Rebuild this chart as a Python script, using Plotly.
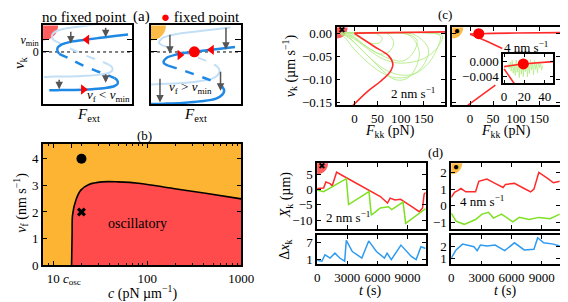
import plotly.graph_objects as go

W, H = 568, 302
def PX(px): return px / W
def PY(py): return 1 - py / H

FONT = "'Liberation Serif', 'Times New Roman', 'DejaVu Serif', serif"
RED = "#FF2A2A"
GREEN = "#7EE020"
LGREEN = "#B2EC86"
BLUE = "#2F9BF0"
DBLUE = "#1E88E5"
LBLUE = "#C3DFF6"
ORANGE = "#FCB432"
REDFILL = "#FF4B4B"
GRAY = "#555555"

# ---------------- (a) schematic curves (normalized units) ----------------
AL_UP_U = [0.95, 0.80, 0.62, 0.45, 0.30, 0.21, 0.165, 0.16, 0.18]
AL_UP_W = [0.885, 0.865, 0.84, 0.815, 0.79, 0.76, 0.72, 0.68, 0.64]
AL_MID_U = [0.18, 0.30, 0.45, 0.60, 0.72, 0.80]
AL_MID_W = [0.64, 0.575, 0.49, 0.42, 0.37, 0.33]
AL_LO_U = [0.80, 0.83, 0.835, 0.80, 0.70, 0.55, 0.35, 0.20, 0.07]
AL_LO_W = [0.33, 0.30, 0.26, 0.23, 0.205, 0.19, 0.18, 0.18, 0.175]
ALL_UP_U = [0.89, 0.74, 0.56, 0.39, 0.24, 0.15, 0.105, 0.10, 0.12]
ALL_UP_W = [1.055, 1.035, 1.01, 0.985, 0.96, 0.93, 0.89, 0.85, 0.81]
ALL_MID_U = [0.12, 0.24, 0.39, 0.54, 0.66, 0.74]
ALL_MID_W = [0.81, 0.745, 0.66, 0.59, 0.54, 0.50]
ALL_LO_U = [0.74, 0.77, 0.775, 0.74, 0.64, 0.49, 0.29, 0.14, 0.01]
ALL_LO_W = [0.50, 0.47, 0.43, 0.40, 0.375, 0.36, 0.35, 0.35, 0.345]

AR_UP_U = [0.93, 0.67, 0.48, 0.28, 0.17, 0.14, 0.19]
AR_UP_W = [0.725, 0.69, 0.665, 0.63, 0.585, 0.53, 0.49]
AR_MID_U = [0.19, 0.35, 0.50, 0.64, 0.74, 0.79]
AR_MID_W = [0.49, 0.43, 0.37, 0.31, 0.26, 0.22]
AR_LO_U = [0.79, 0.81, 0.79, 0.72, 0.55, 0.35, 0.15, 0.0]
AR_LO_W = [0.22, 0.17, 0.12, 0.07, 0.035, 0.015, 0.005, 0.0]
ARL_UP_U = [0.88, 0.62, 0.43, 0.23, 0.12, 0.09, 0.14]
ARL_UP_W = [0.975, 0.94, 0.915, 0.88, 0.835, 0.78, 0.74]
ARL_MID_U = [0.14, 0.30, 0.45, 0.59, 0.69, 0.74]
ARL_MID_W = [0.74, 0.68, 0.62, 0.56, 0.51, 0.47]
ARL_LO_U = [0.74, 0.76, 0.74, 0.67, 0.50, 0.30, 0.10, 0.0]
ARL_LO_W = [0.47, 0.42, 0.37, 0.32, 0.285, 0.265, 0.255, 0.25]

A_TICK_W = [0.663, 0.82]
A_TICK_TXT = ["0", "<i>v</i><sub>min</sub>"]

# gray arrows (u_start, w_start, u_end, w_end)
AL_ARROWS = [(0.31, 0.94, 0.31, 0.77), (0.70, 0.99, 0.70, 0.85),
             (0.18, 0.33, 0.18, 0.19), (0.70, 0.40, 0.70, 0.27)]
AR_ARROWS = [(0.21, 0.90, 0.21, 0.64), (0.83, 0.99, 0.83, 0.69),
             (0.77, 0.43, 0.77, 0.17), (0.10, 0.34, 0.10, 0.02)]

# ---------------- (b) phase diagram ----------------
B_BOUND_C = [15.7, 15.9, 16.1, 17.5, 19.7, 24, 33, 49, 85, 189, 417, 1000]
B_BOUND_V = [0.0, 1.17, 1.9, 2.46, 2.82, 3.03, 3.13, 3.13, 3.07, 2.88, 2.7, 2.49]
B_POINT_C = [20]
B_DOT_V = [4.0]
B_CROSS_V = [2.0]
B_XTICKS = [10, 15.8, 100, 1000]
B_XTICKTXT = ["10", "<i>c</i><sub>osc</sub>", "100", "1000"]
B_MINOR = [8, 9, 20, 30, 40, 50, 60, 70, 80, 90, 200, 300, 400, 500, 600, 700, 800, 900]

# ---------------- (c) force-velocity ----------------
C2_S_F = [-3, 28, 56, 77, 83, 74, 42, 0]
C2_S_V = [-0.157, -0.127, -0.105, -0.084, -0.067, -0.049, -0.028, 0.0]
C2_TOP_F = [0, 50, 100, 150, 200]
C2_TOP_V = [0.0005, 0.0015, 0.0022, 0.0028, 0.0033]
GREEN_LOOPS = [
    ([-30, -15, 5, 30, 60, 95, 130, 160, 180, 185, 150, 90, 30, -30],
     [0, -0.008, -0.025, -0.05, -0.075, -0.09, -0.088, -0.065, -0.03, -0.005, 0.001, 0.002, 0.002, 0]),
    ([-25, -10, 10, 35, 60, 85, 110, 130, 140, 120, 70, 10, -25],
     [0, -0.01, -0.03, -0.055, -0.08, -0.1, -0.1, -0.08, -0.04, -0.005, 0.001, 0.002, 0]),
    ([-20, 0, 20, 45, 75, 105, 125, 135, 110, 60, 0, -20],
     [0, -0.01, -0.025, -0.04, -0.055, -0.06, -0.045, -0.015, 0, 0.001, 0.001, 0]),
    ([-28, -12, 8, 30, 60, 100, 150, 180, 190, 160, 100, 40, -28],
     [0, -0.006, -0.018, -0.035, -0.055, -0.065, -0.055, -0.03, -0.005, 0.001, 0.002, 0.002, 0]),
    ([-15, 0, 15, 35, 55, 75, 85, 70, 30, -15],
     [0, -0.008, -0.02, -0.035, -0.045, -0.04, -0.02, 0, 0.001, 0]),
    ([-30, -18, 0, 25, 50, 80, 115, 145, 160, 130, 70, 0, -30],
     [0, -0.012, -0.035, -0.06, -0.08, -0.095, -0.095, -0.075, -0.035, -0.003, 0.001, 0.001, 0]),
    ([-10, 5, 20, 40, 55, 60, 45, 20, -10],
     [0, -0.006, -0.015, -0.022, -0.02, -0.01, 0, 0.001, 0]),
]
C4_TOP_F = [0, 18, 48, 100, 200]
C4_TOP_V = [-0.0013, -0.0006, 0.0, 0.0008, 0.0016]
C4_DIAG_F = [0, 10, 40, 70]
C4_DIAG_V = [-0.0019, -0.0057, -0.019, -0.033]
C4_LOW_F = [-5, 25, 55]
C4_LOW_V = [-0.157, -0.135, -0.113]
C4_FP_F = [19]
C4_FP_V = [-0.0006]
INSET_F = [4, 5, 6, 7, 8, 9, 10, 11, 12, 13, 14, 15, 16, 17, 18, 19, 20, 21, 22, 23, 24,
           25, 26, 27, 28, 29, 30, 31, 32, 33, 34, 35, 36, 37, 38]
INSET_V = [-0.0005, -0.0018, -0.0002, -0.0025, 0.0003, -0.0030, -0.0006, -0.0036, 0.0004,
           -0.0028, -0.0003, -0.0042, 0.0005, -0.0033, -0.0001, -0.0039, 0.0006, -0.0026,
           0.0002, -0.0040, -0.0004, -0.0031, 0.0005, -0.0022, -0.0002, -0.0035, 0.0003,
           -0.0020, -0.0006, -0.0029, 0.0, -0.0016, -0.0005, -0.0022, -0.0010]

# ---------------- (d) time series ----------------
D2_RED_T = [0, 645, 871, 1290, 1500, 1936, 2420, 3065, 4356, 5324, 6292, 7002, 7260, 7744,
            8300, 9196, 10164, 10486, 10648, 10800]
D2_RED_X = [0.3, 0.5, 2.4, 1.9, 1.2, 5.6, 4.7, 3.5, 1.2, -0.7, -2.3, -4.4, -2.8, -3.4,
            -3.2, -5.1, -7.2, -6.0, -1.5, -1.0]
D2_GRN_T = [0, 645, 2904, 3130, 5163, 5389, 6292, 7100, 7420, 8550, 8808, 10800]
D2_GRN_X = [-0.2, -0.7, 3.5, -4.9, -0.7, -8.3, -6.0, -5.6, -6.5, -4.1, -11.0, -6.2]
D2_BLU_T = [0, 480, 780, 1290, 1770, 2250, 2740, 2904, 3500, 4450, 5130, 5900, 6700, 6960,
            7380, 8340, 9370, 9850, 10330, 10800]
D2_BLU_D = [0.76, 0.41, 2.74, 1.56, 3.3, 1.56, 0.41, 7.9, 3.9, 1.56, 7.7, 3.9, 1.56, 3.3,
            1.0, 6.2, 2.15, 1.0, 5.6, 5.0]
D4_RED_T = [0, 323, 646, 968, 1452, 2420, 2743, 3226, 3549, 4356, 5163, 5389, 6292, 7260,
            7905, 8228, 8711, 9518, 10164, 10800]
D4_RED_X = [0.5, 0.8, 0.9, 1.03, 0.83, 0.83, 1.47, 1.53, 1.6, 1.34, 1.09, 1.28, 1.34, 1.03,
            0.83, 0.99, 2.0, 1.67, 1.38, 1.47]
D4_GRN_T = [0, 484, 1290, 2420, 3065, 3710, 4195, 5000, 6130, 6776, 7744, 8711, 9840, 10800]
D4_GRN_X = [-0.47, -0.95, -1.14, -0.85, -0.52, -0.41, -0.76, -0.52, -0.99, -0.72, -0.85,
            -0.72, -0.8, -0.52]
D4_BLU_T = [0, 480, 1130, 2260, 2580, 2900, 3550, 4356, 5324, 6292, 7260, 8228, 8600, 9196,
            10164, 10800]
D4_BLU_D = [1.0, 1.68, 2.16, 1.94, 1.62, 2.08, 2.0, 2.08, 1.62, 2.27, 1.68, 1.73, 2.69,
            2.27, 2.16, 2.0]
D_TICKS = [0, 3000, 6000, 9000]

# axis ranges
A_XR, A_YR = [0, 1], [0, 1]
B_XR, B_YR = [0.893, 3.0], [0, 4.56]
C_XR, C_YR = [-38.6, 196], [-0.157, 0.013]
IN_XR, IN_YR = [-1, 48.5], [-0.0057, 0.0021]
D_TR = [0, 10800]
D2_YR, D2B_YR = [-12.8, 8.5], [-0.74, 9.7]
D4_YR, D4B_YR = [-1.42, 2.56], [0.47, 2.89]

fig = go.Figure()

def line(x, y, ax, color, width=1.5, dash=None, shape="linear"):
    fig.add_trace(go.Scatter(x=x, y=y, mode="lines", xaxis="x" + ax, yaxis="y" + ax,
                             line=dict(color=color, width=width, dash=dash, shape=shape),
                             hoverinfo="skip", showlegend=False))

def marker(x, y, ax, color, size, symbol="circle", opacity=1.0, clip=True):
    fig.add_trace(go.Scatter(x=x, y=y, mode="markers", xaxis="x" + ax, yaxis="y" + ax,
                             marker=dict(color=color, size=size, symbol=symbol, opacity=opacity,
                                         line=dict(width=0)),
                             cliponaxis=clip, hoverinfo="skip", showlegend=False))

def a_panel(ax, curves_light, curves_dark, corner_color):
    marker([A_XR[0]], [A_YR[1]], ax, corner_color, 30, opacity=0.9)
    line([0, 1], [A_TICK_W[0]] * 2, ax, "black", 1, "dot")
    for (u, w, d) in curves_light:
        line(u, w, ax, LBLUE, 2, d, "spline")
    for (u, w, d) in curves_dark:
        line(u, w, ax, DBLUE, 2.5, d, "spline")

a_panel("", [(ALL_UP_U, ALL_UP_W, None), (ALL_MID_U, ALL_MID_W, "dash"), (ALL_LO_U, ALL_LO_W, None)],
        [(AL_UP_U, AL_UP_W, None), (AL_MID_U, AL_MID_W, "dash"), (AL_LO_U, AL_LO_W, None)], REDFILL)
marker([0.49], [0.82], "", "red", 9, "triangle-left")
marker([0.45], [0.185], "", "red", 9, "triangle-right")

a_panel("2", [(ARL_UP_U, ARL_UP_W, None), (ARL_MID_U, ARL_MID_W, "dash"), (ARL_LO_U, ARL_LO_W, None)],
        [(AR_UP_U, AR_UP_W, None), (AR_MID_U, AR_MID_W, "dash"), (AR_LO_U, AR_LO_W, None)], ORANGE)
marker([0.32], [0.625], "2", "red", 9, "triangle-right")
marker([0.67], [0.69], "2", "red", 9, "triangle-left")
marker([0.48], [0.665], "2", "red", 11)

# ---- (b)
fig.add_trace(go.Scatter(x=B_BOUND_C + [1000], y=B_BOUND_V + [0], mode="lines", fill="toself",
                         fillcolor=REDFILL, line=dict(width=0), xaxis="x3", yaxis="y3",
                         hoverinfo="skip", showlegend=False))
line(B_BOUND_C, B_BOUND_V, "3", "black", 1.6, None, "spline")
marker(B_POINT_C, B_DOT_V, "3", "black", 10)
marker(B_POINT_C, B_CROSS_V, "3", "black", 8, "x")

# ---- (c) left
marker([C_XR[0]], [C_YR[1]], "4", REDFILL, 22, opacity=0.9)
for F, V in GREEN_LOOPS:
    line(F, V, "4", LGREEN, 0.9, None, "spline")
line(C2_TOP_F, C2_TOP_V, "4", RED, 1.6)
line(C2_S_F, C2_S_V, "4", RED, 1.6, None, "spline")

# ---- (c) right
marker([C_XR[0]], [C_YR[1]], "5", ORANGE, 22, opacity=0.9)
line(C4_TOP_F, C4_TOP_V, "5", RED, 1.6)
line(C4_DIAG_F, C4_DIAG_V, "5", RED, 1.6)
line(C4_LOW_F, C4_LOW_V, "5", RED, 1.6)
marker(C4_FP_F, C4_FP_V, "5", "red", 11)

# ---- inset
line(INSET_F, INSET_V, "6", LGREEN, 0.8)
line(C4_TOP_F, C4_TOP_V, "6", RED, 1.6)
line(C4_DIAG_F, C4_DIAG_V, "6", RED, 1.6)
marker(C4_FP_F, C4_FP_V, "6", "red", 11)

# ---- (d)
marker([D_TR[0]], [D2_YR[1]], "7", REDFILL, 22, opacity=0.9)
line(D2_RED_T, D2_RED_X, "7", RED, 1.5)
line(D2_GRN_T, D2_GRN_X, "7", GREEN, 1.5)
line(D2_BLU_T, D2_BLU_D, "8", BLUE, 1.5)
marker([D_TR[0]], [D4_YR[1]], "9", ORANGE, 22, opacity=0.9)
line(D4_RED_T, D4_RED_X, "9", RED, 1.5)
line(D4_GRN_T, D4_GRN_X, "9", GREEN, 1.5)
line(D4_BLU_T, D4_BLU_D, "10", BLUE, 1.5)

# ---------------- axes ----------------
def axis(dom, rng, anchor, **kw):
    d = dict(domain=dom, range=rng, anchor=anchor, showline=True, linecolor="black",
             linewidth=1.8, mirror="ticks", ticks="inside", ticklen=4, tickwidth=1,
             tickcolor="black", showgrid=False, zeroline=False,
             tickfont=dict(family=FONT, size=13, color="black"))
    d.update(kw)
    return d

def xd(a, b): return [PX(a), PX(b)]
def yd(a, b): return [PY(b), PY(a)]

layout_axes = {}
layout_axes["xaxis"] = axis(xd(33, 125), A_XR, "y", ticks="", showticklabels=False)
layout_axes["yaxis"] = axis(yd(17, 98), A_YR, "x", tickvals=A_TICK_W, ticktext=A_TICK_TXT, ticklen=6,
                            tickfont=dict(family=FONT, size=12, color="black"))
layout_axes["xaxis2"] = axis(xd(144, 237), A_XR, "y2", ticks="", showticklabels=False)
layout_axes["yaxis2"] = axis(yd(17, 98), A_YR, "x2", tickvals=A_TICK_W, showticklabels=False, ticklen=6)
layout_axes["xaxis3"] = axis(xd(33, 237), B_XR, "y3", type="log", tickvals=B_XTICKS, ticktext=B_XTICKTXT,
                             minor=dict(ticks="inside", ticklen=2, tickvals=B_MINOR, tickcolor="black"))
layout_axes["yaxis3"] = axis(yd(139, 264), B_YR, "x3", tickvals=[0, 1, 2, 3, 4])
C_YT = [0, -0.05, -0.10, -0.15]
C_YTT = ["0.00", "\u22120.05", "\u22120.10", "\u22120.15"]
layout_axes["xaxis4"] = axis(xd(335, 446.7), C_XR, "y4", tickvals=[0, 50, 100, 150])
layout_axes["yaxis4"] = axis(yd(19, 99.3), C_YR, "x4", tickvals=C_YT, ticktext=C_YTT)
layout_axes["xaxis5"] = axis(xd(454, 565.3), C_XR, "y5", tickvals=[0, 50, 100, 150])
layout_axes["yaxis5"] = axis(yd(19, 99.3), C_YR, "x5", tickvals=C_YT, showticklabels=False)
layout_axes["xaxis6"] = axis(xd(506.3, 558), IN_XR, "y6", tickvals=[0, 20, 40], linewidth=1.5)
layout_axes["yaxis6"] = axis(yd(46, 76.7), IN_YR, "x6", tickvals=[0, -0.004], ticktext=["0.000", "\u22120.004"], linewidth=1.5)
layout_axes["xaxis7"] = axis(xd(315, 426.7), D_TR, "y7", tickvals=D_TICKS, showticklabels=False)
layout_axes["yaxis7"] = axis(yd(159, 226.7), D2_YR, "x7", tickvals=[5, 0, -5, -10], ticktext=["5", "0", "\u22125", "\u221210"])
layout_axes["xaxis8"] = axis(xd(315, 426.7), D_TR, "y8", tickvals=D_TICKS)
layout_axes["yaxis8"] = axis(yd(233.3, 263.3), D2B_YR, "x8", tickvals=[7, 1])
layout_axes["xaxis9"] = axis(xd(453, 564.7), D_TR, "y9", tickvals=D_TICKS, showticklabels=False)
layout_axes["yaxis9"] = axis(yd(159, 226.7), D4_YR, "x9", tickvals=[2, 1, 0, -1], ticktext=["2", "1", "0", "\u22121"])
layout_axes["xaxis10"] = axis(xd(453, 564.7), D_TR, "y10", tickvals=D_TICKS)
layout_axes["yaxis10"] = axis(yd(233.3, 263.3), D4B_YR, "x10", tickvals=[2, 1])

ann = []
def text(px, py, t, size=13, angle=0, xanchor="center", color="black"):
    ann.append(dict(x=PX(px), y=PY(py), xref="paper", yref="paper", text=t, showarrow=False,
                    textangle=angle, xanchor=xanchor, yanchor="middle",
                    font=dict(family=FONT, size=size, color=color)))

for (u0, w0, u1, w1) in AL_ARROWS:
    ann.append(dict(x=u1, y=w1, ax=u0, ay=w0, xref="x", yref="y", axref="x", ayref="y", text="",
                    showarrow=True, arrowhead=2, arrowsize=1, arrowwidth=1.5, arrowcolor=GRAY))
for (u0, w0, u1, w1) in AR_ARROWS:
    ann.append(dict(x=u1, y=w1, ax=u0, ay=w0, xref="x2", yref="y2", axref="x2", ayref="y2", text="",
                    showarrow=True, arrowhead=2, arrowsize=1, arrowwidth=1.5, arrowcolor=GRAY))

text(76, 8, "no fixed point", 15)
text(134, 8, "(a)", 15)
text(152, 8, '<span style="color:red">\u25cf</span> fixed point', 15, xanchor="left")
text(100, 89, "<i>v</i><sub>f</sub> &lt; <i>v</i><sub>min</sub>", 13)
text(185, 81, "<i>v</i><sub>f</sub> &gt; <i>v</i><sub>min</sub>", 13)
text(10, 55, "<i>v</i><sub>k</sub>", 15, -90)
text(80, 109, "<i>F</i><sub>ext</sub>", 15)
text(190, 109, "<i>F</i><sub>ext</sub>", 15)

text(137, 130, "(b)", 13)
text(130, 221, "oscillatory", 14)
text(10, 200, "<i>v</i><sub>f</sub> (nm s<sup>\u22121</sup>)", 14, -90)
text(135, 292, "<i>c</i> (pN \u00b5m<sup>\u22121</sup>)", 14)

text(447, 6, "(c)", 13)
text(287, 58, "<i>v</i><sub>k</sub> (\u00b5m s<sup>\u22121</sup>)", 14, -90)
text(390, 126, "<i>F</i><sub>kk</sub> (pN)", 14)
text(509, 126, "<i>F</i><sub>kk</sub> (pN)", 14)
text(414, 87, "2 nm s<sup>\u22121</sup>", 13)
text(530, 39, "4 nm s<sup>\u22121</sup>", 13)
text(341, 22, "\u2716", 9)
text(459, 22, "\u25cf", 10)

text(437, 148, "(d)", 13)
text(283, 192, "<i>X</i><sub>k</sub> (\u00b5m)", 14, -90)
text(283, 248, "\u0394<i>x</i><sub>k</sub>", 14, -90)
text(370, 291, "<i>t</i> (s)", 14)
text(509, 291, "<i>t</i> (s)", 14)
text(347, 214, "2 nm s<sup>\u22121</sup>", 13)
text(485, 198, "4 nm s<sup>\u22121</sup>", 13)
text(320, 162, "\u2716", 9)
text(458, 162, "\u25cf", 10)

fig.update_layout(width=W, height=H, margin=dict(l=0, r=0, t=0, b=0),
                  paper_bgcolor="white", plot_bgcolor="white", showlegend=False,
                  font=dict(family=FONT, size=13, color="black"),
                  annotations=ann, **layout_axes)
fig.layout.shapes = [dict(type="rect", xref="x3 domain", yref="y3 domain", x0=0, x1=1, y0=0, y1=1,
                          fillcolor=ORANGE, line=dict(width=0), layer="below")]
fig.write_html("out.html")
